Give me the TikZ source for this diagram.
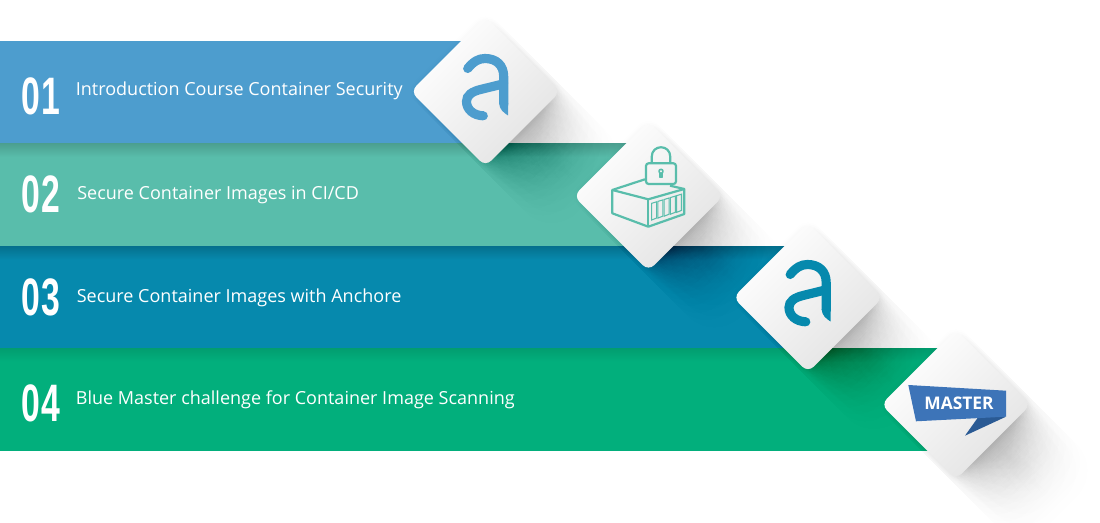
\documentclass[tikz,border=0pt]{standalone}
\usepackage{fontspec}
\setmainfont{Open Sans}
\newfontfamily\numfont[LetterSpace=6]{Liberation Sans}
\usetikzlibrary{shapes.geometric,positioning}
\definecolor{BarBlue}{RGB}{77,157,206}
\definecolor{BarMint}{RGB}{89,189,171}
\definecolor{BarTeal}{RGB}{6,137,173}
\definecolor{BarGreen}{RGB}{2,175,124}
\definecolor{BadgeBlue}{RGB}{61,116,184}
\definecolor{BadgeDark}{RGB}{42,90,148}
\tikzset{
  bar/.style={anchor=north west, minimum height=2.05cm, inner sep=0pt, outer sep=0pt},
  barshade/.style={anchor=north west, minimum height=0.26cm, inner sep=0pt, outer sep=0pt},
  barlab/.style={anchor=base west, inner sep=0pt, text=white, font=\fontsize{10.25}{13}\selectfont},
  barnum/.style={anchor=base west, inner sep=0pt, text=white, xscale=0.64,
    font=\numfont\bfseries\fontsize{30}{32}\selectfont},
  tile/.style={shape=diamond, aspect=1, minimum size=3cm, inner sep=0pt, rounded corners=4.5pt,
    top color=white, bottom color=black!11, shading angle=45},
  iconline/.style={draw=BarMint, line width=1.25pt, line join=round},
  anchorlogo/.pic={
    \draw[line width=5.2pt, line cap=round, #1] (-17.8,-23) .. controls (-12,-30) and (-7,-33) .. (-0.5,-33)
      .. controls (11,-33) and (18.2,-26) .. (18.2,-15) -- (18.2,11.7);
    \fill[#1] (13.6,11.7) .. controls (14,18) and (18,21) .. (22.5,24) -- (22.8,11.7) -- cycle;
    \draw[line width=5.2pt, line cap=round, #1] (18.2,-7.7) -- (-3.8,-2.3)
      .. controls (-14,0) and (-19,4) .. (-19,10) .. controls (-19,18) and (-12,24) .. (-2.2,24.3);
  },
}
\newcommand{\castshadow}[2]{%
  \foreach \i in {0,...,11}{
    \foreach \j in {0,...,7}{
      \pgfmathsetmacro{\off}{66*(\i/11)^1.5}
      \pgfmathsetmacro{\hd}{81-(\j/7)*(12+\off)}
      \pgfmathsetmacro{\rad}{8+0.2*\off}
      \fill[black, opacity=0.0038, rounded corners=\rad pt]
        (#1+\off-\hd,#2+\off) -- (#1+\off,#2+\off-\hd) -- (#1+\off+\hd,#2+\off) -- (#1+\off,#2+\off+\hd) -- cycle;
    }
  }
}
\begin{document}
\begin{tikzpicture}[x=0.02cm, y=-0.02cm]
  \useasboundingbox (0,0) rectangle (1100,523);
  % bars
  \node[bar, fill=BarBlue, minimum width=9.7cm] (bar1) at (0,41) {};
  \node[bar, fill=BarMint, minimum width=12.96cm] (bar2) at (0,144) {};
  \node[bar, fill=BarTeal, minimum width=16.16cm] (bar3) at (0,246.5) {};
  \node[bar, fill=BarGreen, minimum width=19.12cm] (bar4) at (0,348.5) {};
  \node[barshade, top color=BarMint!85!black, bottom color=BarMint, minimum width=12.96cm] (shade2) at (0,144) {};
  \node[barshade, top color=BarTeal!82!black, bottom color=BarTeal, minimum width=16.16cm] (shade3) at (0,246.5) {};
  \node[barshade, top color=BarGreen!90!black, bottom color=BarGreen, minimum width=19.12cm] (shade4) at (0,348.5) {};
  % labels
  \node[barnum] (num1) at (21,115) {01};
  \node[barnum] (num2) at (21,213) {02};
  \node[barnum] (num3) at (21,316) {03};
  \node[barnum] (num4) at (21,422) {04};
  \node[barlab] (lab1) at (75.5,96) {Introduction Course Container Security};
  \node[barlab] (lab2) at (77,200) {Secure Container Images in CI/CD};
  \node[barlab] (lab3) at (76.5,303) {Secure Container Images with Anchore};
  \node[barlab] (lab4) at (75.5,405) {Blue Master challenge for Container Image Scanning};
  % tiles
  \castshadow{485.5}{91.5}
  \castshadow{648.5}{196}
  \castshadow{808}{297.5}
  \castshadow{956}{404.5}
  \node[tile] (tile1) at (485.5,91.5) {};
  \node[tile] (tile2) at (648.5,196) {};
  \node[tile] (tile3) at (808,297.5) {};
  \node[tile] (tile4) at (956,404.5) {};
  \pic at (tile1.center) {anchorlogo=BarBlue};
  \pic at (tile3.center) {anchorlogo=BarTeal};
  % lock and container
  \draw[iconline, rounded corners=1.5pt] (646,163.3) rectangle (676,184);
  \draw[iconline] (651.7,163.3) -- (651.7,157) .. controls (651.7,144) and (670.3,144) .. (670.3,157) -- (670.3,163.3);
  \draw[iconline, line width=0.9pt] (661,171.3) circle (2);
  \draw[iconline, line width=0.9pt] (660,173.5) -- (660,177.5) -- (662,177.5) -- (662,173.5);
  \draw[iconline] (645,179.3) -- (612.3,190) -- (612.3,213.3) -- (648.3,226.7) -- (684.3,214) -- (684.3,189) -- (670,185.7);
  \draw[iconline] (612.3,190) -- (648.3,199.3) -- (684.3,189);
  \draw[iconline] (648.3,199.3) -- (648.3,226.7);
  \foreach \i in {0,...,4}
    \draw[BarMint, line width=0.6pt] (651.7+6.2*\i,203.3-1.9*\i) -- (656.7+6.2*\i,201.8-1.9*\i)
      -- (656.7+6.2*\i,218-1.9*\i) -- (651.7+6.2*\i,220-1.9*\i) -- cycle;
  % badge
  \fill[BadgeDark] (1006,416.7) -- (965,435.7) -- (978.3,417) -- cycle;
  \fill[BadgeBlue] (908.3,385) -- (1006,390.7) -- (1006,416.7) -- (916,421.3) -- cycle;
  \node[inner sep=0pt, text=white, font=\bfseries\fontsize{9.9}{12}\selectfont] (badgetxt) at (959,403.7) {MASTER};
\end{tikzpicture}
\end{document}
